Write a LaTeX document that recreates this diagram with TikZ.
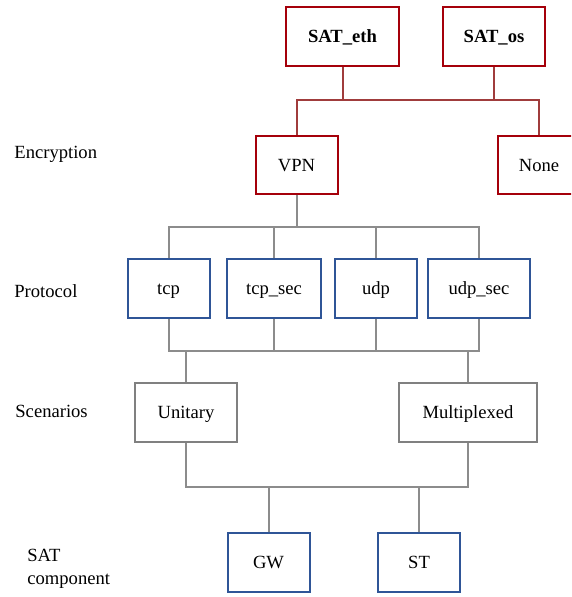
\documentclass[tikz,border=0pt]{standalone}
\usepackage{fontspec}
\setmainfont{Liberation Serif}
\usepackage{tikz}
\usetikzlibrary{calc}
\definecolor{satred}{RGB}{165,0,10}
\definecolor{satredline}{RGB}{160,60,60}
\definecolor{satblue}{RGB}{47,85,151}
\definecolor{satgray}{RGB}{128,128,128}
\definecolor{satgrayline}{RGB}{140,140,140}
\tikzstyle{redbox} = [rectangle, draw=satred, line width=1pt, fill=white,
    minimum width=41pt, minimum height=29.5pt, text centered, text height=6.2pt, text depth=0pt]
\tikzstyle{bluebox} = [rectangle, draw=satblue, line width=1pt, fill=white,
    minimum width=41pt, minimum height=29.5pt, text centered, text height=6.2pt, text depth=0pt]
\tikzstyle{graybox} = [rectangle, draw=satgray, line width=1pt, fill=white,
    minimum width=51pt, minimum height=29.5pt, text centered, text height=6.2pt, text depth=0pt]
\tikzstyle{redline} = [draw=satredline, line width=1pt]
\tikzstyle{grayline} = [draw=satgrayline, line width=1pt]
\tikzstyle{rowlabel} = [anchor=west, align=left, inner sep=0pt]

\begin{document}
\begin{tikzpicture}[font=\fontsize{9.3}{11.2}\selectfont]
    \useasboundingbox (0,0) rectangle (285.5pt,-298.5pt);
    \clip (0,0) rectangle (285.5pt,-298.5pt);
    % Place nodes
    \node [redbox, minimum width=56.5pt, font=\fontsize{9.3}{11.2}\selectfont\bfseries] (sateth) at (171.25pt,-18.25pt) {SAT\_eth};
    \node [redbox, right of=sateth, node distance=75.75pt, minimum width=51pt, font=\fontsize{9.3}{11.2}\selectfont\bfseries] (satos) {SAT\_os};
    \node [redbox, below of=sateth, node distance=64.25pt, xshift=-23pt, minimum height=29pt] (vpn) {VPN};
    \node [redbox, right of=vpn, node distance=121.25pt, minimum height=29pt] (none) {None};

    \node [bluebox, below of=vpn, node distance=61.75pt, xshift=-64pt] (tcp) {tcp};
    \node [bluebox, right of=tcp, node distance=52.75pt, minimum width=47pt] (tcpsec) {tcp\_sec};
    \node [bluebox, right of=tcpsec, node distance=51pt] (udp) {udp};
    \node [bluebox, right of=udp, node distance=51.5pt, minimum width=51pt] (udpsec) {udp\_sec};

    \node [graybox, below of=tcp, node distance=62pt, xshift=8.75pt] (unitary) {Unitary};
    \node [graybox, right of=unitary, node distance=141pt, minimum width=69pt] (multiplexed) {Multiplexed};

    \node [bluebox, below of=unitary, node distance=75pt, xshift=41.25pt] (gw) {GW};
    \node [bluebox, right of=gw, node distance=75.25pt] (st) {ST};

    \node [rowlabel] (encryption) at (7pt,-77pt) {Encryption};
    \node [rowlabel] (protocol) at (7pt,-145.5pt) {Protocol};
    \node [rowlabel] (scenarios) at (7.5pt,-205.5pt) {Scenarios};
    \node [rowlabel] (component) at (13.5pt,-284.5pt) {SAT\\component};

    % Bus levels
    \coordinate (encbus) at (0,-50pt);
    \coordinate (protbus) at (0,-113.5pt);
    \coordinate (scenbus) at (0,-175.5pt);
    \coordinate (compbus) at (0,-243.5pt);

    % Draw edges
    \path [redline] (sateth.south) -- (sateth.south |- encbus);
    \path [redline] (satos.south) -- (satos.south |- encbus);
    \path [redline] (vpn.north) |- (none.north |- encbus) -- (none.north);

    \path [grayline] (vpn.south) -- (vpn.south |- protbus);
    \path [grayline] (tcp.north) |- (udpsec.north |- protbus) -- (udpsec.north);
    \path [grayline] (tcpsec.north) -- (tcpsec.north |- protbus);
    \path [grayline] (udp.north) -- (udp.north |- protbus);

    \path [grayline] (tcp.south) |- (udpsec.south |- scenbus) -- (udpsec.south);
    \path [grayline] (tcpsec.south) -- (tcpsec.south |- scenbus);
    \path [grayline] (udp.south) -- (udp.south |- scenbus);
    \path [grayline] (unitary.north) -- (unitary.north |- scenbus);
    \path [grayline] (multiplexed.north) -- (multiplexed.north |- scenbus);

    \path [grayline] (unitary.south) |- (multiplexed.south |- compbus) -- (multiplexed.south);
    \path [grayline] (gw.north) -- (gw.north |- compbus);
    \path [grayline] (st.north) -- (st.north |- compbus);

\end{tikzpicture}
\end{document}
